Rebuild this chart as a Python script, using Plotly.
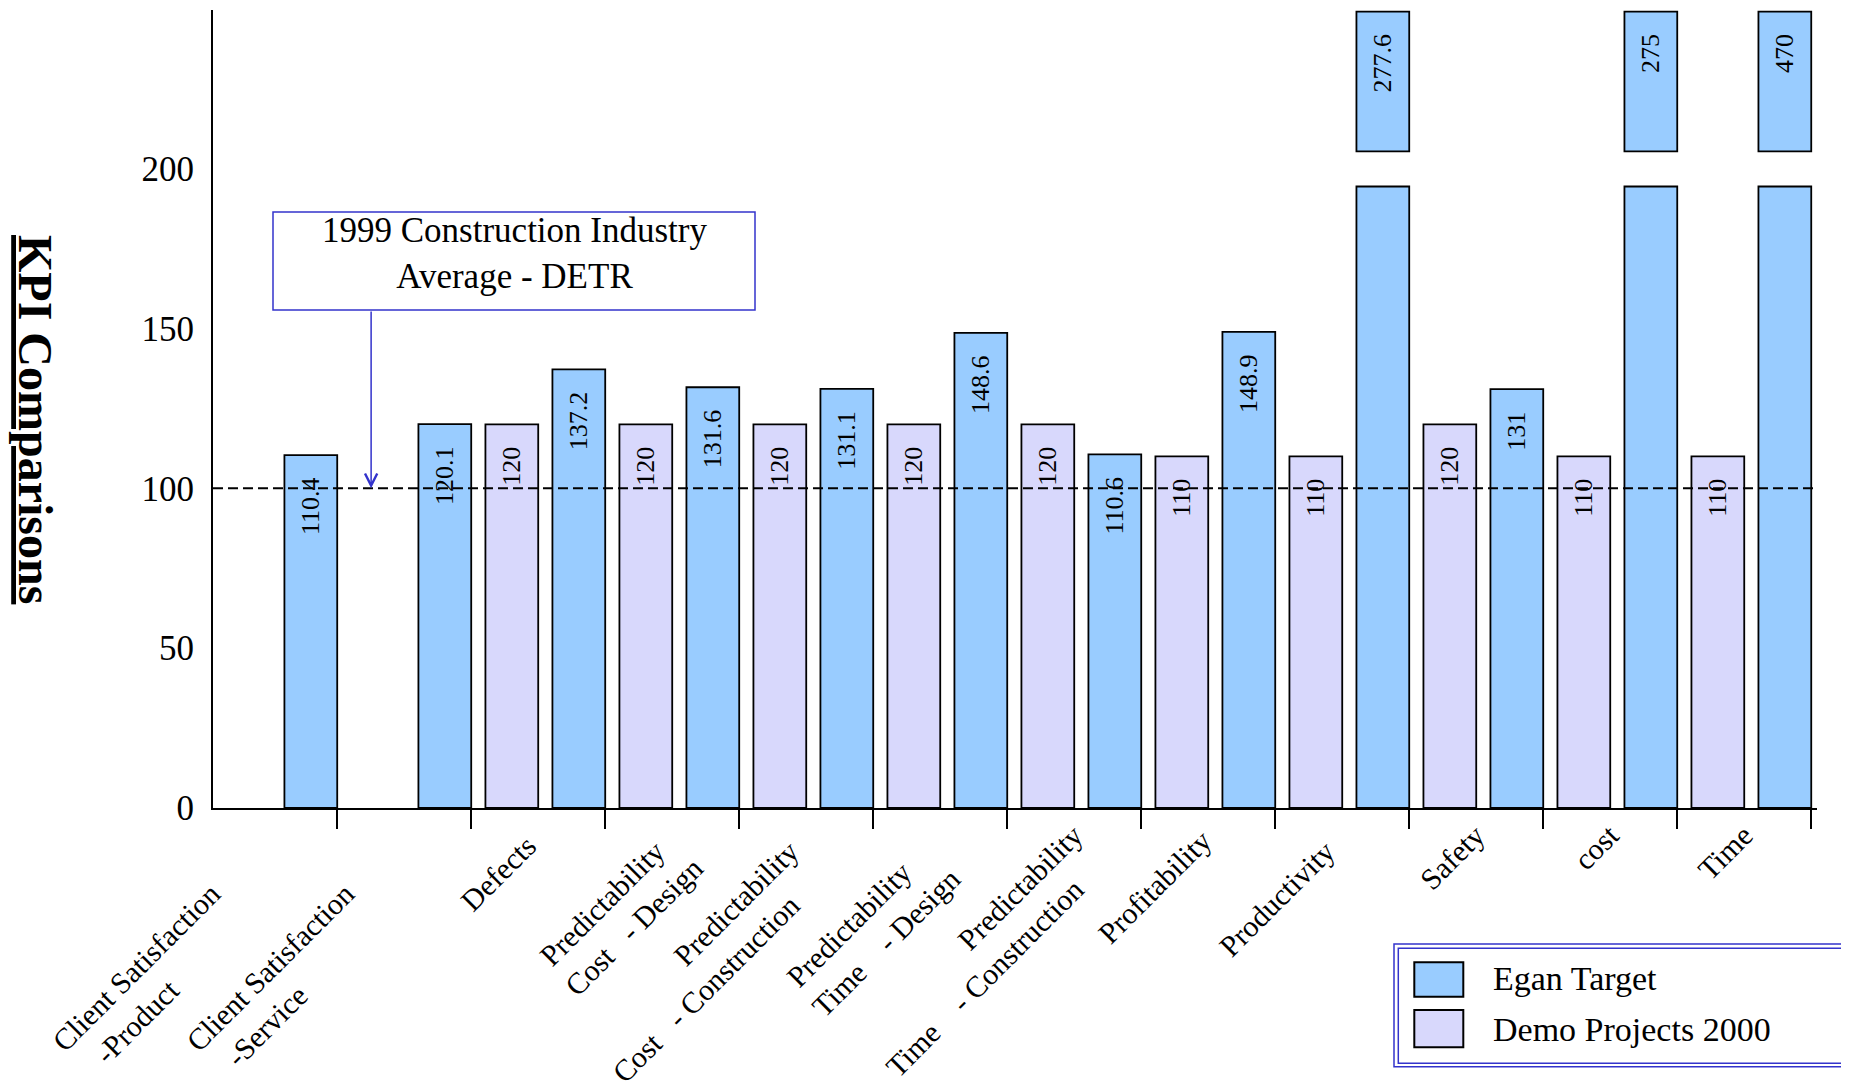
import plotly.graph_objects as go

# ---------------- data ----------------
categories = [
    "Client Satisfaction -Product", "Client Satisfaction -Service", "Defects",
    "Predictability Cost - Design", "Predictability Cost - Construction",
    "Predictability Time - Design", "Predictability Time - Construction",
    "Profitability", "Productivity", "Safety", "cost", "Time",
]
NB = "\u00a0"
tick_labels = [
    "Client Satisfaction" + NB * 11 + "<br>-Product" + NB * 24,
    "Client Satisfaction" + NB * 11 + "<br>-Service" + NB * 25,
    "Defects" + NB * 2,
    "Predictability" + NB * 3 + "<br>Cost" + NB * 3 + "- Design" + NB * 1,
    "Predictability" + NB * 3 + "<br>Cost" + NB * 3 + "- Construction" + NB * 8,
    "Predictability" + NB * 7 + "<br>Time" + NB * 4 + "- Design" + NB * 3,
    "Predictability" + "<br>Time" + NB * 4 + "- Construction" + NB * 5,
    "Profitability" + NB * 1, "Productivity" + NB * 3, "Safety", "cost", "Time",
]
egan_target = [110.4, 120.1, 137.2, 131.6, 131.1, 148.6, 110.6, 148.9, 277.6, 131, 275, 470]
demo_projects = [None, None, 120, 120, 120, 120, 120, 110, 110, 120, 110, 110]
series_names = ["Egan Target", "Demo Projects 2000"]
industry_average = 100
y_ticks = [0, 50, 100, 150, 200]
note_text = "1999 Construction Industry<br>Average - DETR"
y_title = "KPI Comparisons"

# ---------------- style ----------------
BODY = 8                      # default page margin of the html body
W, H = 1849 - BODY, 1088 - BODY
M_L, M_R, M_T, M_B = 205, 32, 2, 280
PLOT_W = W - M_L - M_R
PLOT_H = H - M_T - M_B
FONT = "Liberation Serif, Times New Roman, serif"
BLUE = "#99CCFF"
LAV = "#D8D8FC"
LINE_BLUE = "#3333CC"

# broken axis
BREAK_LO = 194.4   # lower segment drawn up to here
BREAK_HI = 205.4   # upper segment starts here
Y_TOP = 249.6
Y_CAP = 249.1

BAR_W = 0.394
OFF_DEMO = -0.392
OFF_EGAN = 0.108


def px_x(px):
    return (px - BODY - M_L) / PLOT_W


def px_y(py):
    return (H - M_B - (py - BODY)) / PLOT_H


def fmt(v):
    return f"{v:g}" + NB * 3


fig = go.Figure()

# Demo projects
fig.add_trace(go.Bar(
    x=categories, y=demo_projects, name=series_names[1],
    width=BAR_W, offset=OFF_DEMO,
    marker=dict(color=LAV, line=dict(color="black", width=1.8)),
    text=[fmt(v) if v is not None else "" for v in demo_projects],
    textposition="inside", insidetextanchor="end", textangle=-90,
    insidetextfont=dict(family=FONT, size=26, color="black"),
    showlegend=False, hoverinfo="skip",
))

# Egan target, lower segment
fig.add_trace(go.Bar(
    x=categories, y=[min(v, BREAK_LO) for v in egan_target], name=series_names[0],
    width=BAR_W, offset=OFF_EGAN,
    marker=dict(color=BLUE, line=dict(color="black", width=1.8)),
    text=[fmt(v) if v <= BREAK_LO else "" for v in egan_target],
    textposition="inside", insidetextanchor="end", textangle=-90,
    insidetextfont=dict(family=FONT, size=26, color="black"),
    showlegend=False, hoverinfo="skip",
))

# Egan target, upper segment (broken axis)
big = [(c, v) for c, v in zip(categories, egan_target) if v > BREAK_LO]
fig.add_trace(go.Bar(
    x=[c for c, _ in big], y=[min(v, Y_CAP) - BREAK_HI for _, v in big],
    base=BREAK_HI, name=series_names[0],
    width=BAR_W, offset=OFF_EGAN,
    marker=dict(color=BLUE, line=dict(color="black", width=1.8)),
    text=[fmt(v) for _, v in big],
    textposition="inside", insidetextanchor="end", textangle=-90,
    insidetextfont=dict(family=FONT, size=26, color="black"),
    showlegend=False, hoverinfo="skip",
))

# dashed industry-average line
fig.add_shape(type="line", xref="paper", yref="y", x0=0, x1=1,
              y0=industry_average, y1=industry_average,
              line=dict(color="black", width=2, dash="10px,5px"), layer="above")

# annotation box + arrow
fig.add_shape(type="rect", xref="paper", yref="paper",
              x0=px_x(273), x1=px_x(755), y0=px_y(310), y1=px_y(212),
              line=dict(color=LINE_BLUE, width=1.5), fillcolor="white", layer="above")
fig.add_annotation(
    text=note_text, xref="paper", yref="paper", x=px_x(514), y=px_y(253),
    xanchor="center", yanchor="middle", showarrow=False,
    font=dict(family=FONT, size=35, color="black"),
)
fig.add_annotation(
    text="", xref="x", yref="y", x=0.755, y=industry_average,
    axref="x", ayref="y", ax=0.755, ay=(808 - 310) / 798 * Y_TOP,
    showarrow=True, arrowhead=5, arrowsize=1.6, arrowwidth=1.5,
    arrowcolor=LINE_BLUE, standoff=0, startstandoff=0,
)

# y-axis title (rotated, bold, underlined)
fig.add_annotation(
    text=f"<u><b>{y_title}</b></u>", xref="paper", yref="paper",
    x=px_x(35), y=px_y(419), xanchor="center", yanchor="middle",
    textangle=90, showarrow=False,
    font=dict(family=FONT, size=48, color="black"),
)

# manual legend with double border
for (x0, x1, y0, y1) in [(1394, 1851, 944, 1066.7), (1398.3, 1845.7, 948.3, 1063.3)]:
    fig.add_shape(type="rect", xref="paper", yref="paper",
                  x0=px_x(x0), x1=px_x(x1), y0=px_y(y1), y1=px_y(y0),
                  line=dict(color=LINE_BLUE, width=1.5), fillcolor="rgba(0,0,0,0)")
for (name, col, top, bottom, text_mid) in [
        (series_names[0], BLUE, 962.3, 996.7, 978),
        (series_names[1], LAV, 1010, 1047.3, 1029.5)]:
    fig.add_shape(type="rect", xref="paper", yref="paper",
                  x0=px_x(1414.3), x1=px_x(1463.3), y0=px_y(bottom), y1=px_y(top),
                  line=dict(color="black", width=2), fillcolor=col)
    fig.add_annotation(text=name, xref="paper", yref="paper",
                       x=px_x(1491), y=px_y(text_mid), xanchor="left", yanchor="middle",
                       showarrow=False, font=dict(family=FONT, size=34, color="black"))

fig.update_layout(
    template="none",
    width=W, height=H, margin=dict(l=M_L, r=M_R, t=M_T, b=M_B, autoexpand=False),
    paper_bgcolor="white", plot_bgcolor="white",
    barmode="overlay", showlegend=False,
    font=dict(family=FONT, color="black"),
    xaxis=dict(
        type="category", categoryorder="array", categoryarray=categories,
        tickmode="array", tickvals=categories, ticktext=tick_labels,
        range=[-0.425, 11.545], tickson="boundaries", automargin=False,
        ticks="outside", ticklen=19, tickwidth=2, tickcolor="black",
        showline=True, linecolor="black", linewidth=2,
        showgrid=False, zeroline=False, tickangle=-45,
        ticklabelstandoff=-4,
        tickfont=dict(family=FONT, size=30, color="black"),
    ),
    yaxis=dict(
        range=[0, Y_TOP], tickmode="array", tickvals=y_ticks, automargin=False,
        showline=True, linecolor="black", linewidth=2,
        showgrid=False, zeroline=False, ticks="",
        ticklabelstandoff=10,
        tickfont=dict(family=FONT, size=35, color="black"),
    ),
)

fig.write_html("out.html")
